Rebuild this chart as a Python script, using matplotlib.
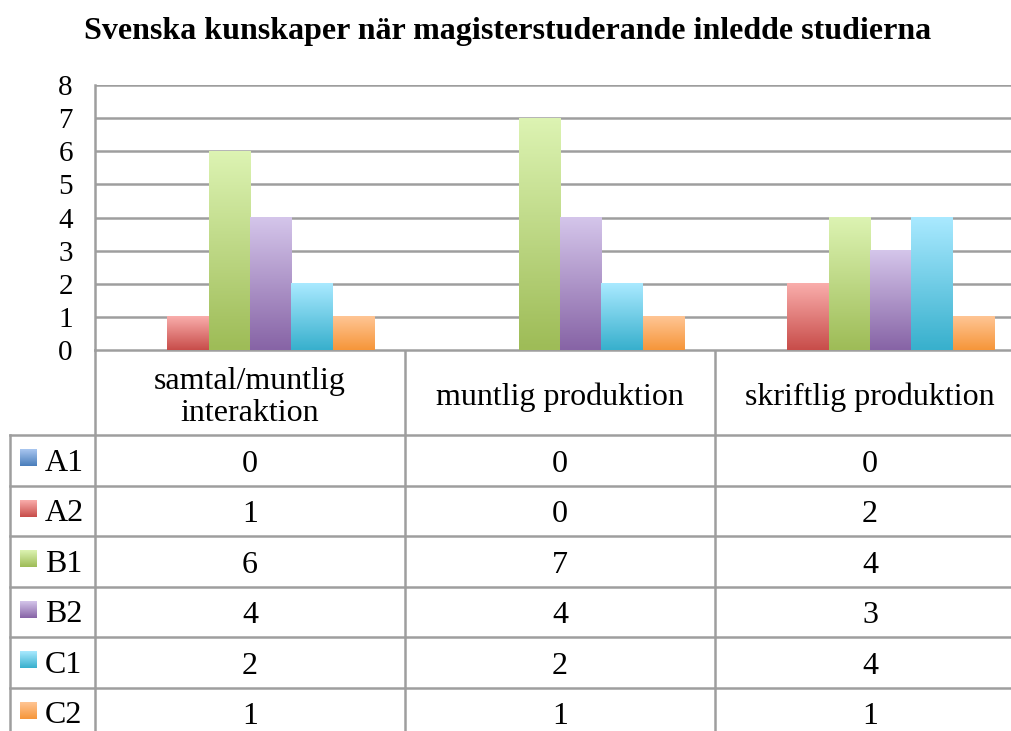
import numpy as np
import matplotlib.pyplot as plt
from matplotlib.colors import LinearSegmentedColormap

# data
categories = ["samtal/muntlig\ninteraktion", "muntlig produktion", "skriftlig produktion"]
levels = ["A1", "A2", "B1", "B2", "C1", "C2"]
counts = {
    "A1": [0, 0, 0],
    "A2": [1, 0, 2],
    "B1": [6, 7, 4],
    "B2": [4, 4, 3],
    "C1": [2, 2, 4],
    "C2": [1, 1, 1],
}
title = "Svenska kunskaper när magisterstuderande inledde studierna"

# (top, bottom) gradient colours per level
grad = {
    "A1": ("#A9C6F0", "#4A7EBB"),
    "A2": ("#F9ADAB", "#C84D4A"),
    "B1": ("#DCF3B2", "#9EBC57"),
    "B2": ("#D4C5EA", "#8764A6"),
    "C1": ("#A9E9FF", "#38B0CD"),
    "C2": ("#FFC594", "#F6963A"),
}

W, H = 1012, 731
plt.rcParams['font.family'] = ['Liberation Serif', 'DejaVu Serif']
fig = plt.figure(figsize=(W / 100, H / 100), dpi=100)

# layout in pixels
ax_left, ax_top, ax_bot = 95, 85, 350
col_w = 310
leg_left = 10
row_h = 50.5
head_bot = 435
grid_c = "#9E9E9E"
fs = 23

ax = fig.add_axes([ax_left / W, 1 - ax_bot / H, 3 * col_w / W, (ax_bot - ax_top) / H])
ax.set_xlim(-0.5, 2.5)
ax.set_ylim(0, 8)
ax.set_yticks(range(0, 9))
ax.tick_params(axis='y', length=0, pad=16, labelsize=21)
ax.set_xticks([])
for s in ["top", "right", "bottom"]:
    ax.spines[s].set_visible(False)
ax.spines["left"].set_color(grid_c)
ax.spines["left"].set_linewidth(1.8)
ax.yaxis.grid(True, color=grid_c, linewidth=1.8)
ax.set_axisbelow(True)

group_w = 0.8
bw = group_w / len(levels)
x = np.arange(len(categories))
grad_img = np.linspace(0, 1, 64).reshape(-1, 1)
for i, lv in enumerate(levels):
    cmap = LinearSegmentedColormap.from_list(lv, [grad[lv][1], grad[lv][0]])
    xs = x - group_w / 2 + i * bw
    for xi, v in zip(xs, counts[lv]):
        if v <= 0:
            continue
        ax.imshow(grad_img, cmap=cmap, aspect='auto', origin='lower',
                  extent=(xi, xi + bw, 0, v), zorder=3, interpolation='bilinear')
ax.set_xlim(-0.5, 2.5)
ax.set_ylim(0, 8)

# title
fig.text((85 + 930) / 2 / W, 1 - 31 / H, title, ha='center', va='center',
         fontsize=23, fontweight='bold')

# data table below the chart
tab = fig.add_axes([0, 0, 1, 1], zorder=-1)
tab.set_xlim(0, W)
tab.set_ylim(H, 0)
tab.axis('off')

n_rows = len(levels)
table_bot = head_bot + row_h * n_rows
lw = 1.8
# vertical lines
for k in range(4):
    xx = ax_left + k * col_w
    tab.plot([xx, xx], [ax_bot, table_bot], color=grid_c, lw=lw)
tab.plot([leg_left, leg_left], [head_bot, table_bot], color=grid_c, lw=lw)
# horizontal lines
tab.plot([ax_left, ax_left + 3 * col_w], [ax_bot, ax_bot], color=grid_c, lw=lw)
for r in range(n_rows + 1):
    yy = head_bot + r * row_h
    tab.plot([leg_left, ax_left + 3 * col_w], [yy, yy], color=grid_c, lw=lw)

# header texts
for c, cat in enumerate(categories):
    tab.text(ax_left + (c + 0.5) * col_w, (ax_bot + head_bot) / 2 + 5, cat,
             ha='center', va='center', fontsize=fs, linespacing=1.15)

# rows
sq = 17
for r, lv in enumerate(levels):
    yc = head_bot + (r + 0.5) * row_h
    cmap = LinearSegmentedColormap.from_list(lv + "k", [grad[lv][1], grad[lv][0]])
    tab.imshow(grad_img, cmap=cmap, aspect='auto', origin='lower',
               extent=(20, 20 + sq, yc + 6, yc + 6 - sq), zorder=3)
    tab.text(45, yc + 3, lv, ha='left', va='center', fontsize=fs)
    for c, v in enumerate(counts[lv]):
        tab.text(ax_left + (c + 0.5) * col_w, yc + 4, str(v),
                 ha='center', va='center', fontsize=fs)
tab.set_xlim(0, W)
tab.set_ylim(H, 0)

fig.savefig("out.png", dpi=100)
